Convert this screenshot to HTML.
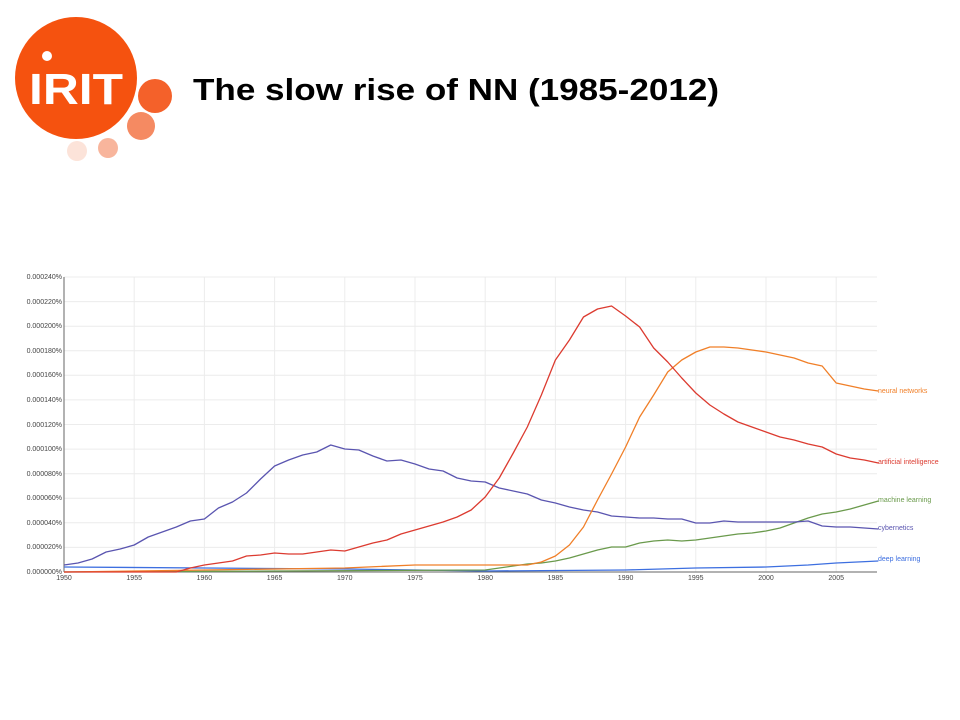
<!DOCTYPE html>
<html><head><meta charset="utf-8"><style>
html,body{margin:0;padding:0;background:#fff;width:960px;height:720px;overflow:hidden}
svg{display:block}
</style></head><body>
<svg width="960" height="720" xmlns="http://www.w3.org/2000/svg">
<!-- logo -->
<circle cx="76" cy="78" r="61" fill="#f5520f"/>
<circle cx="155" cy="96" r="17" fill="#f4612a"/>
<circle cx="141" cy="126" r="14" fill="#f58a62"/>
<circle cx="108" cy="148" r="10" fill="#f8b59c"/>
<circle cx="77" cy="151" r="10" fill="#fce3d9"/>
<circle cx="47" cy="56" r="5" fill="#fff"/>
<text x="29" y="104" font-family="Liberation Sans, sans-serif" font-weight="bold" font-size="44" fill="#fff" textLength="94" lengthAdjust="spacingAndGlyphs">IRIT</text>
<!-- title -->
<text x="193" y="100" font-family="Liberation Sans, sans-serif" font-weight="bold" font-size="31" fill="#000" textLength="526" lengthAdjust="spacingAndGlyphs">The slow rise of NN (1985-2012)</text>
<!-- grid -->
<g stroke="#ececec" stroke-width="1">
<line x1="64" y1="277" x2="877" y2="277"/><line x1="64" y1="301.6" x2="877" y2="301.6"/><line x1="64" y1="326.2" x2="877" y2="326.2"/><line x1="64" y1="350.7" x2="877" y2="350.7"/><line x1="64" y1="375.3" x2="877" y2="375.3"/><line x1="64" y1="399.9" x2="877" y2="399.9"/><line x1="64" y1="424.5" x2="877" y2="424.5"/><line x1="64" y1="449.1" x2="877" y2="449.1"/><line x1="64" y1="473.7" x2="877" y2="473.7"/><line x1="64" y1="498.2" x2="877" y2="498.2"/><line x1="64" y1="522.8" x2="877" y2="522.8"/><line x1="64" y1="547.4" x2="877" y2="547.4"/>
<line x1="134.2" y1="277" x2="134.2" y2="572"/><line x1="204.4" y1="277" x2="204.4" y2="572"/><line x1="274.6" y1="277" x2="274.6" y2="572"/><line x1="344.8" y1="277" x2="344.8" y2="572"/><line x1="415" y1="277" x2="415" y2="572"/><line x1="485.2" y1="277" x2="485.2" y2="572"/><line x1="555.4" y1="277" x2="555.4" y2="572"/><line x1="625.6" y1="277" x2="625.6" y2="572"/><line x1="695.8" y1="277" x2="695.8" y2="572"/><line x1="766" y1="277" x2="766" y2="572"/><line x1="836.2" y1="277" x2="836.2" y2="572"/>
</g>
<g stroke="#666" stroke-width="1">
<line x1="64" y1="277" x2="64" y2="572"/><line x1="64" y1="572" x2="877" y2="572"/>
</g>
<g font-family="Liberation Sans, sans-serif" font-size="7" fill="#444" text-anchor="end">
<text x="62" y="279">0.000240%</text><text x="62" y="304">0.000220%</text><text x="62" y="328">0.000200%</text><text x="62" y="353">0.000180%</text><text x="62" y="377">0.000160%</text><text x="62" y="402">0.000140%</text><text x="62" y="427">0.000120%</text><text x="62" y="451">0.000100%</text><text x="62" y="476">0.000080%</text><text x="62" y="500">0.000060%</text><text x="62" y="525">0.000040%</text><text x="62" y="549">0.000020%</text><text x="62" y="574">0.000000%</text>
</g>
<g font-family="Liberation Sans, sans-serif" font-size="7" fill="#444" text-anchor="middle">
<text x="64" y="580">1950</text><text x="134.2" y="580">1955</text><text x="204.4" y="580">1960</text><text x="274.6" y="580">1965</text><text x="344.8" y="580">1970</text><text x="415" y="580">1975</text><text x="485.2" y="580">1980</text><text x="555.4" y="580">1985</text><text x="625.6" y="580">1990</text><text x="695.8" y="580">1995</text><text x="766" y="580">2000</text><text x="836.2" y="580">2005</text>
</g>
<g transform="translate(64,0) scale(14.04,1)" fill="none" stroke-width="1.3" stroke-linejoin="round">
<polyline vector-effect="non-scaling-stroke" stroke="#3d6fe0" points="0,567 10,568 20,569 30,571 40,570 45,568 50,567 53,565 55,563 58,561"/>
<polyline vector-effect="non-scaling-stroke" stroke="#6a9a4c" points="0,572 30,570 33,564 34,563 35,561 36,558 37,554 38,550 39,547 40,547 41,543 42,541 43,540 44,541 45,540 46,538 47,536 48,534 49,533 50,531 51,528 52,523 53,518 54,514 55,512 56,509 57,505 58,501"/>
<polyline vector-effect="non-scaling-stroke" stroke="#5a55b0" points="0,565 1,563 2,559 3,552 4,549 5,545 6,537 7,532 8,527 9,521 10,519 11,508 12,502 13,493 14,479 15,466 16,460 17,455 18,452 19,445 20,449 21,450 22,456 23,461 24,460 25,464 26,469 27,471 28,478 29,481 30,482 31,488 32,491 33,494 34,500 35,503 36,507 37,510 38,512 39,516 40,517 41,518 42,518 43,519 44,519 45,523 46,523 47,521 48,522 49,522 50,522 51,522 52,522 53,521 54,526 55,527 56,527 57,528 58,529"/>
<polyline vector-effect="non-scaling-stroke" stroke="#f07f28" points="0,572 10,570 20,568 25,565 30,565 33,565 34,562 35,556 36,545 37,527 38,500 39,474 40,447 41,417 42,395 43,372 44,360 45,352 46,347 47,347 48,348 49,350 50,352 51,355 52,358 53,363 54,366 55,383 56,386 57,389 58,391"/>
<polyline vector-effect="non-scaling-stroke" stroke="#dc3b30" points="0,572 8,572 9,568 10,565 11,563 12,561 13,556 14,555 15,553 16,554 17,554 18,552 19,550 20,551 21,547 22,543 23,540 24,534 25,530 26,526 27,522 28,517 29,510 30,497 31,478 32,453 33,427 34,395 35,360 36,340 37,317 38,309 39,306 40,316 41,327 42,348 43,362 44,378 45,393 46,405 47,414 48,422 49,427 50,432 51,437 52,440 53,444 54,447 55,454 56,458 57,460 58,463"/>
</g>
<g font-family="Liberation Sans, sans-serif" font-size="7">
<text x="878" y="393" fill="#f07f28">neural networks</text>
<text x="878" y="464" fill="#dc3b30">artificial intelligence</text>
<text x="878" y="502" fill="#6a9a4c">machine learning</text>
<text x="878" y="530" fill="#5a55b0">cybernetics</text>
<text x="878" y="561" fill="#3d6fe0">deep learning</text>
</g>
</svg>
</body></html>
